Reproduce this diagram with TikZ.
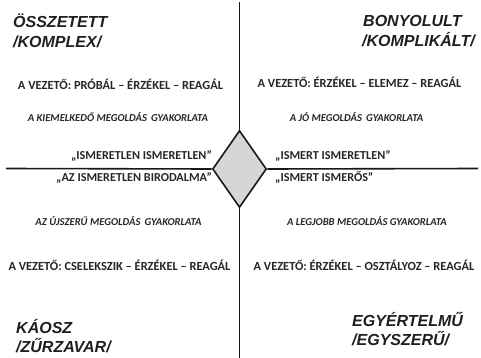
\documentclass[tikz,border=0pt]{standalone}
\usepackage{fontspec}
\usetikzlibrary{shapes.geometric}
\newfontfamily\headfont{Liberation Sans}
\newfontfamily\bodyfont{Carlito}
\begin{document}
\begin{tikzpicture}[x=1pt,y=-1pt,
  head/.style={font=\headfont\bfseries\itshape\fontsize{16}{20}\selectfont, text=black!88, inner sep=0pt, align=left},
  lead/.style={font=\bodyfont\bfseries\fontsize{12.4}{14}\selectfont, text=black!85, inner sep=0pt, anchor=base},
  prac/.style={font=\bodyfont\bfseries\itshape\fontsize{10.6}{12}\selectfont, text=black!85, inner sep=0pt, anchor=base},
  quote/.style={font=\bodyfont\bfseries\fontsize{12.2}{14}\selectfont, text=black!85, inner sep=0pt},
  axis/.style={line width=1.6pt, black!90},
  dia/.style={diamond, draw=black!90, line width=1.6pt, fill=black!16, minimum width=54pt, minimum height=77pt, inner sep=0pt, aspect=0.7}
]
\useasboundingbox (0,0) rectangle (481,358);
\node[dia] (d) at (239.5,169) {};
\coordinate (top) at (239.5,2);
\coordinate (bot) at (239.5,358);
\coordinate (lft) at (6,168.5);
\coordinate (rgt) at (478,168.5);
\draw[axis] (top) -- (d.north);
\draw[axis] (d.south) -- (bot);
\draw[axis] (lft) -- (d.west);
\draw[axis] (d.east) -- (rgt);
% headings
\node[head, anchor=base west] (h1) at (13,28) {ÖSSZETETT};
\node[head, anchor=base west] (h1b) at (13,48) {/KOMPLEX/};
\node[head, anchor=base west] (h2) at (363,27) {BONYOLULT};
\node[head, anchor=base west] (h2b) at (362,47) {/KOMPLIKÁLT/};
\node[head, anchor=base west] (h3) at (16,333) {KÁOSZ};
\node[head, anchor=base west] (h3b) at (16,352) {/ZŰRZAVAR/};
\node[head, anchor=base west] (h4) at (352,326) {EGYÉRTELMŰ};
\node[head, anchor=base west] (h4b) at (352,345) {/EGYSZERŰ/};
% leader lines
\node[lead] (l1) at (120.5,90) {A VEZETŐ: PRÓBÁL – ÉRZÉKEL – REAGÁL};
\node[lead] (l2) at (359.5,88) {A VEZETŐ: ÉRZÉKEL – ELEMEZ – REAGÁL};
\node[lead] (l3) at (119.5,270) {A VEZETŐ: CSELEKSZIK – ÉRZÉKEL – REAGÁL};
\node[lead] (l4) at (364,270) {A VEZETŐ: ÉRZÉKEL – OSZTÁLYOZ – REAGÁL};
% practices
\node[prac] (p1) at (118,122) {A KIEMELKEDŐ MEGOLDÁS\, GYAKORLATA};
\node[prac] (p2) at (356.5,122) {A JÓ MEGOLDÁS\, GYAKORLATA};
\node[prac] (p3) at (118.5,225) {AZ ÚJSZERŰ MEGOLDÁS\, GYAKORLATA};
\node[prac] (p4) at (367,225) {A LEGJOBB MEGOLDÁS GYAKORLATA};
% quotes
\node[quote, anchor=base east] (q1) at (212,160) {„ISMERETLEN ISMERETLEN”};
\node[quote, anchor=base east] (q2) at (212,181) {„AZ ISMERETLEN BIRODALMA”};
\node[quote, anchor=base west] (q3) at (275,160) {„ISMERT ISMERETLEN”};
\node[quote, anchor=base west] (q4) at (275,181) {„ISMERT ISMERŐS”};
\end{tikzpicture}
\end{document}
